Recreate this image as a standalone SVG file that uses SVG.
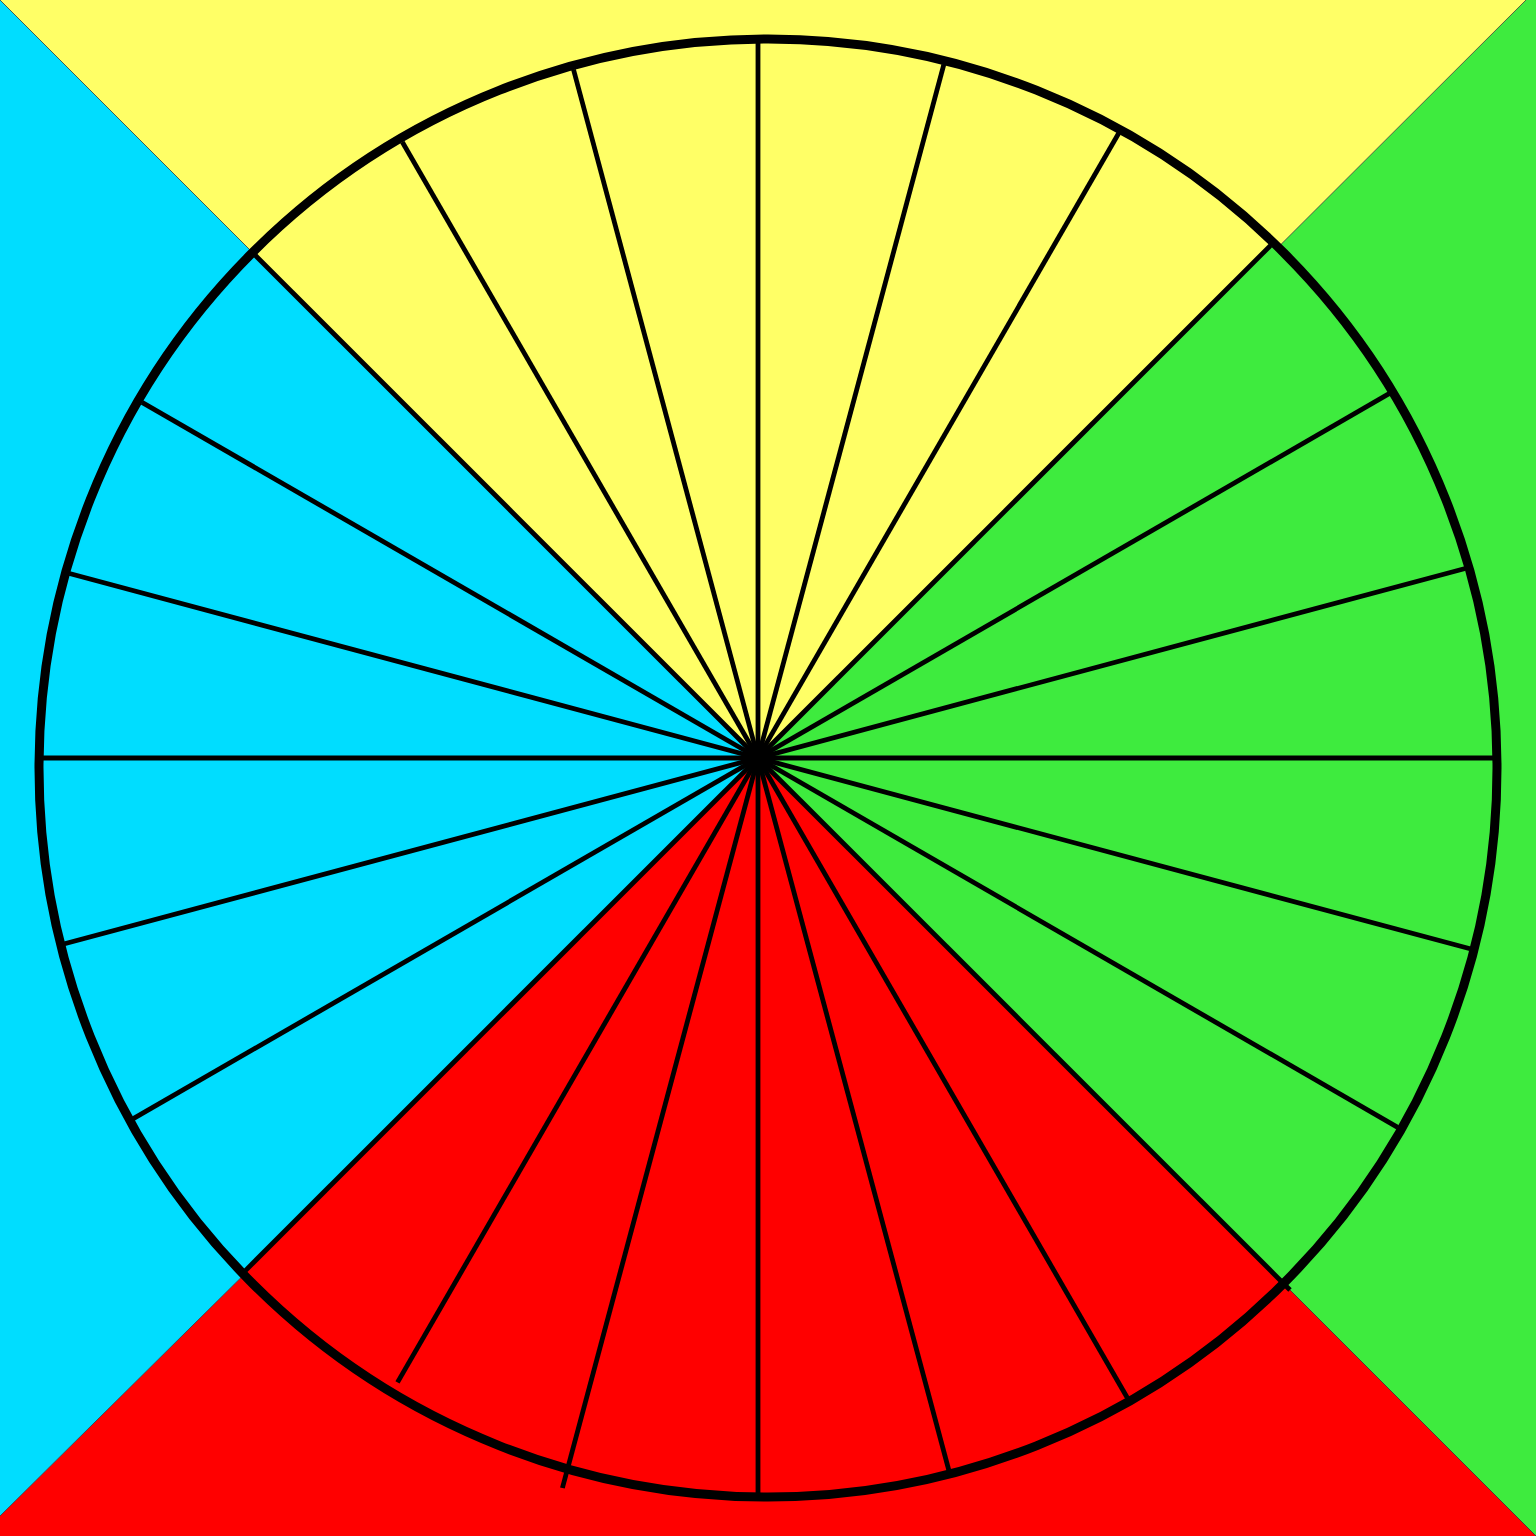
<svg xmlns="http://www.w3.org/2000/svg" width="1536" height="1536" viewBox="0 0 1536 1536">
<style>
.y{fill:#FFFF66}.c{fill:#00DDFF}.g{fill:#3EEB3E}.r{fill:#FF0000}
.edge{stroke:#222;stroke-width:0.7;fill:none}
.spoke{stroke:#000;stroke-width:4.8;fill:none;stroke-linecap:butt}
.ring{fill:none;stroke:#000;stroke-width:9}
</style>
<defs>
<clipPath id="inner"><circle cx="768" cy="768" r="729"/></clipPath>
</defs>
<rect width="1536" height="1536" fill="#FFFFFF"/>
<g id="background">
<polygon class="g" points="1526,0 1536,0 1536,1536 762,762"/>
<polygon class="r" points="0,1516 0,1536 1536,1536 762,762"/>
<polygon class="y" points="0,0 1526,0 762,762"/>
<polygon class="c" points="0,0 762,762 0,1516"/>
<line class="edge" x1="0" y1="0" x2="762" y2="762"/>
<line class="edge" x1="1526" y1="0" x2="762" y2="762"/>
<line class="edge" x1="0" y1="1516" x2="762" y2="762"/>
<line class="edge" x1="1536" y1="1536" x2="762" y2="762"/>
</g>
<g id="wheel" clip-path="url(#inner)">
<polygon class="y" points="758,758 -800,-800 2316,-800"/>
<polygon class="g" points="758,758 2316,-800 2316,2316"/>
<polygon class="r" points="758,758 2316,2316 -800,2316"/>
<polygon class="c" points="758,758 -800,2316 -800,-800"/>
</g>
<g id="spokes" class="spoke">
<line x1="758" y1="758" x2="758" y2="43"/>
<line x1="758" y1="758" x2="943.8" y2="64.6"/>
<line x1="758" y1="758" x2="1118.7" y2="133.3"/>
<line x1="758" y1="758" x2="1270.6" y2="245.4"/>
<line x1="758" y1="758" x2="1389.1" y2="393.7"/>
<line x1="758" y1="758" x2="1465.2" y2="568.5"/>
<line x1="758" y1="758" x2="1493" y2="758"/>
<line x1="758" y1="758" x2="1470.1" y2="948.8"/>
<line x1="758" y1="758" x2="1397.7" y2="1127.3"/>
<line x1="758" y1="758" x2="1290" y2="1290"/>
<line x1="758" y1="758" x2="1127.3" y2="1397.7"/>
<line x1="758" y1="758" x2="948.8" y2="1470.1"/>
<line x1="758" y1="758" x2="758" y2="1495"/>
<line x1="758" y1="758" x2="562.4" y2="1488"/>
<line x1="758" y1="758" x2="397.5" y2="1382.4"/>
<line x1="758" y1="758" x2="245.4" y2="1270.6"/>
<line x1="758" y1="758" x2="133.3" y2="1118.7"/>
<line x1="758" y1="758" x2="64.6" y2="943.8"/>
<line x1="758" y1="758" x2="43" y2="758"/>
<line x1="758" y1="758" x2="69.5" y2="573.5"/>
<line x1="758" y1="758" x2="142" y2="402.3"/>
<line x1="758" y1="758" x2="255.3" y2="255.3"/>
<line x1="758" y1="758" x2="402.3" y2="142"/>
<line x1="758" y1="758" x2="573.5" y2="69.5"/>
</g>
<circle id="rim" class="ring" cx="768" cy="768" r="729"/>
</svg>
